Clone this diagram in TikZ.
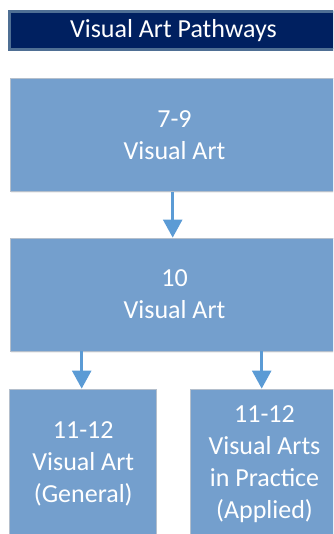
\documentclass[tikz,border=0pt]{standalone}
\usepackage{fontspec}
\setmainfont{Carlito}
\usetikzlibrary{arrows.meta,shadows}

\definecolor{navy}{HTML}{002060}
\definecolor{titleedge}{HTML}{4F6F94}
\definecolor{boxfill}{HTML}{749FCD}
\definecolor{boxedge}{HTML}{B4BFCC}
\definecolor{arrowblue}{HTML}{5B9BD5}

\tikzset{
    pathbox/.style={rectangle, fill=boxfill, draw=boxedge, line width=0.8pt,
        text=white, align=center, inner sep=0pt,
        font=\fontsize{26}{32}\selectfont,
        drop shadow={opacity=0.12, shadow xshift=0.5pt, shadow yshift=-2pt}},
    pathlink/.style={draw=arrowblue, line width=2.6pt,
        -{Triangle[width=19pt, length=18pt]}}
}

\begin{document}
\begin{tikzpicture}[x=1pt, y=-1pt]
    \useasboundingbox (0, 0) rectangle (333, 534);
    \clip (0, 0) rectangle (333, 534);

    \node[rectangle, fill=navy, draw=titleedge, line width=3pt, text=white,
        minimum width=328pt, minimum height=38pt, inner sep=0pt,
        font=\fontsize{26}{32}\selectfont] (title) at (173.5, 30.5) {Visual Art Pathways};

    \node[pathbox, minimum width=329pt, minimum height=113pt] (junior) at (174.5, 135) {7-9\\Visual Art};
    \node[pathbox, minimum width=329pt, minimum height=113pt] (ten) at (174.5, 294.5) {10\\Visual Art};
    \node[pathbox, minimum width=147pt, minimum height=150pt] (general) at (83.25, 464) {11-12\\Visual Art\\(General)};
    \node[pathbox, minimum width=149pt, minimum height=150pt] (applied) at (264.5, 464) {11-12\\Visual Arts\\in Practice\\(Applied)};

    \draw[pathlink] (junior.south -| 172.7, 0) -- (ten.north -| 172.7, 0);
    \draw[pathlink] (ten.south -| 81.7, 0) -- (general.north -| 81.7, 0);
    \draw[pathlink] (ten.south -| 261.7, 0) -- (applied.north -| 261.7, 0);
\end{tikzpicture}
\end{document}
